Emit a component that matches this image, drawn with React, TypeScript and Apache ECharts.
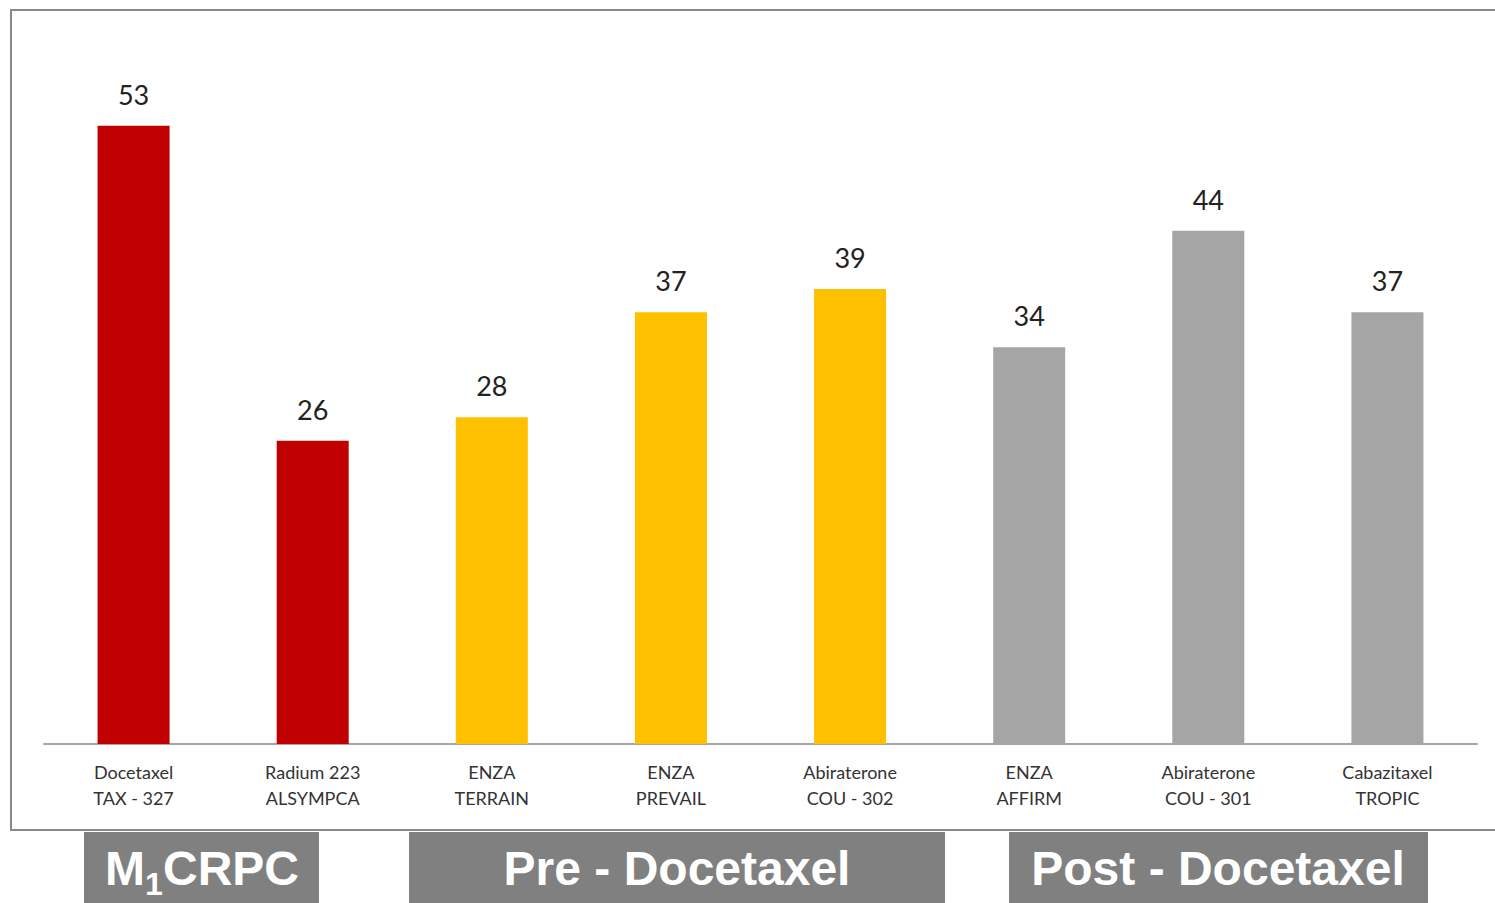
import React, { useEffect, useRef } from "react";
import * as echarts from "echarts";

const categories = [
  "Docetaxel\nTAX - 327",
  "Radium 223\nALSYMPCA",
  "ENZA\nTERRAIN",
  "ENZA\nPREVAIL",
  "Abiraterone\nCOU - 302",
  "ENZA\nAFFIRM",
  "Abiraterone\nCOU - 301",
  "Cabazitaxel\nTROPIC",
];
const values = [53, 26, 28, 37, 39, 34, 44, 37];
const barColors = ["#C00000", "#C00000", "#FFC000", "#FFC000", "#FFC000", "#A5A5A5", "#A5A5A5", "#A5A5A5"];
const groupLabels = ["M", "1", "CRPC", "Pre - Docetaxel", "Post - Docetaxel"];

export default function App() {
  const ref = useRef<HTMLDivElement>(null);
  useEffect(() => {
    if (!ref.current) return;
    const chart = echarts.init(ref.current, null, { renderer: "svg" });
    const boxStyle = { fill: "#808080" };
    const font = (s: number) => `bold ${s}px 'Liberation Sans', Arial, sans-serif`;
    const txt = (x: number, y: number, text: string, size: number, align: string) => ({
      type: "text",
      x,
      y,
      style: { text, fill: "#fff", font: font(size), align, verticalAlign: "middle" },
    });
    chart.setOption({
      animation: false,
      backgroundColor: "#fff",
      grid: { left: 44, right: 18, top: 44, bottom: 159, containLabel: false },
      xAxis: {
        type: "category",
        data: categories,
        axisLine: { lineStyle: { color: "#A6A6A6", width: 2 } },
        axisTick: { show: false },
        axisLabel: {
          color: "#333",
          fontFamily: "Lato, sans-serif",
          fontSize: 18,
          lineHeight: 26,
          margin: 15,
          interval: 0,
        },
      },
      yAxis: { type: "value", min: 0, max: 60, show: false, splitLine: { show: false } },
      series: [
        {
          type: "bar",
          barWidth: 72,
          data: values.map((v, i) => ({ value: v, itemStyle: { color: barColors[i] } })),
          label: {
            show: true,
            position: "top",
            distance: 18,
            color: "#222",
            fontFamily: "Lato, sans-serif",
            fontSize: 27,
          },
        },
      ],
      graphic: [
        {
          type: "rect",
          shape: { x: 11, y: 10, width: 1500, height: 820 },
          style: { fill: "none", stroke: "#888", lineWidth: 2 },
          silent: true,
        },
        { type: "rect", shape: { x: 84, y: 832, width: 235, height: 80 }, style: boxStyle },
        { type: "rect", shape: { x: 409, y: 832, width: 536, height: 80 }, style: boxStyle },
        { type: "rect", shape: { x: 1009, y: 832, width: 419, height: 80 }, style: boxStyle },
        txt(105, 868, groupLabels[0], 48, "left"),
        txt(145, 884, groupLabels[1], 32, "left"),
        txt(299, 868, groupLabels[2], 48, "right"),
        txt(677, 868, groupLabels[3], 48, "center"),
        txt(1218, 868, groupLabels[4], 48, "center"),
      ],
    });
    return () => chart.dispose();
  }, []);
  return (
    <div
      ref={ref}
      style={{ position: "absolute", left: 0, top: 0, width: 1495, height: 903 }}
    />
  );
}
